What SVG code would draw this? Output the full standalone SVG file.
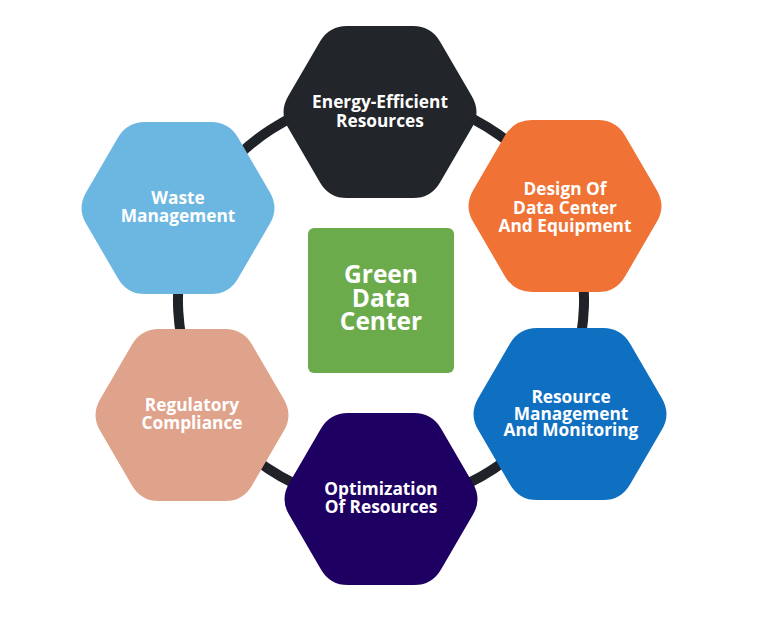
<svg xmlns="http://www.w3.org/2000/svg" xmlns:xlink="http://www.w3.org/1999/xlink" width="757" height="629" viewBox="0 0 757 629">
<style>
.ring{fill:none;stroke:#1f2327;stroke-width:10}
.lbl{font-family:"Open Sans","Noto Sans","Liberation Sans",sans-serif;font-weight:700;font-size:17.3px;fill:#ffffff;text-anchor:middle}
.big{font-family:"Open Sans","Noto Sans","Liberation Sans",sans-serif;font-weight:700;font-size:24.5px;fill:#ffffff;text-anchor:middle}
</style>
<defs>
<path id="hex" d="M -33,-86 L 33,-86 Q 51,-86 60,-70.4 L 92,-15.6 Q 101,0 92,15.6 L 60,70.4 Q 51,86 33,86 L -33,86 Q -51,86 -60,70.4 L -92,15.6 Q -101,0 -92,-15.6 L -60,-70.4 Q -51,-86 -33,-86 Z"/>
</defs>
<rect width="757" height="629" fill="#ffffff"/>
<g id="connectors">
<path class="ring" d="M 381,97 A 203 203 0 0 1 561.9,207.8"/>
<path class="ring" d="M 561.9,207.8 A 203 203 0 0 1 555,404.6"/>
<path class="ring" d="M 555,404.6 A 203 203 0 0 1 381,503"/>
<path class="ring" d="M 381,503 A 203 203 0 0 1 207,404.6"/>
<path class="ring" d="M 207,404.6 A 203 203 0 0 1 196.1,216.1"/>
<path class="ring" d="M 196.1,216.1 A 203 203 0 0 1 381,97"/>
</g>
<g id="energy-efficient">
<use xlink:href="#hex" href="#hex" x="380" y="112" fill="#222529"/>
<text class="lbl" x="380" y="108">Energy-Efficient</text>
<text class="lbl" x="380" y="127">Resources</text>
</g>
<g id="design">
<use xlink:href="#hex" href="#hex" x="565" y="206" fill="#f07235"/>
<text class="lbl" x="565" y="195">Design Of</text>
<text class="lbl" x="565" y="213.5">Data Center</text>
<text class="lbl" x="565" y="232">And Equipment</text>
</g>
<g id="resource-management">
<use xlink:href="#hex" href="#hex" x="570" y="414" fill="#0f70c2"/>
<text class="lbl" x="571" y="403">Resource</text>
<text class="lbl" x="571" y="419.5">Management</text>
<text class="lbl" x="571" y="436">And Monitoring</text>
</g>
<g id="optimization">
<use xlink:href="#hex" href="#hex" x="381" y="499" fill="#1e0063"/>
<text class="lbl" x="381" y="495">Optimization</text>
<text class="lbl" x="381" y="513">Of Resources</text>
</g>
<g id="regulatory">
<use xlink:href="#hex" href="#hex" x="192" y="415" fill="#dfa28b"/>
<text class="lbl" x="192" y="411">Regulatory</text>
<text class="lbl" x="192" y="429">Compliance</text>
</g>
<g id="waste">
<use xlink:href="#hex" href="#hex" x="178" y="208" fill="#6cb7e2"/>
<text class="lbl" x="178" y="204">Waste</text>
<text class="lbl" x="178" y="222">Management</text>
</g>
<g id="green-data-center">
<rect x="308" y="228" width="146" height="145" rx="6" fill="#6cab4b"/>
<text class="big" x="381" y="283">Green</text>
<text class="big" x="381" y="306.5">Data</text>
<text class="big" x="381" y="330">Center</text>
</g>
</svg>
